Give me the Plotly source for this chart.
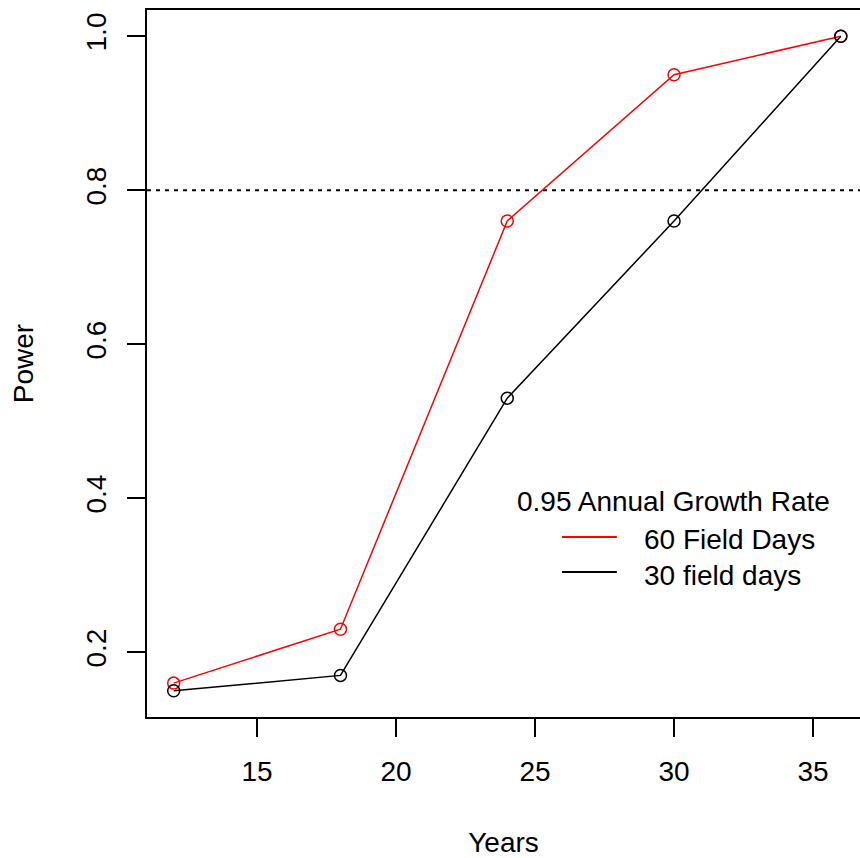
import plotly.graph_objects as go

# Study length (years) and statistical power for two survey efforts
years = [12, 18, 24, 30, 36]
power_60_days = [0.16, 0.23, 0.76, 0.95, 1.00]
power_30_days = [0.15, 0.17, 0.53, 0.76, 1.00]
target_power = 0.8

legend_title = "0.95 Annual Growth Rate"
series_names = ["60 Field Days", "30 field days"]
series_colors = ["#FF0000", "#000000"]

x_ticks = [15, 20, 25, 30, 35]
y_ticks = [0.2, 0.4, 0.6, 0.8, 1.0]

FONT = "Liberation Sans, Arial, sans-serif"

fig = go.Figure()
for name, vals, col in zip(series_names, [power_60_days, power_30_days], series_colors):
    fig.add_trace(go.Scatter(
        x=years, y=vals, name=name, mode="lines+markers",
        line=dict(color=col, width=1.5),
        marker=dict(symbol="circle-open", size=12, color=col, line=dict(width=1.5, color=col)),
        showlegend=False,
    ))

# Dotted reference line at the target power
fig.add_shape(type="line", xref="paper", x0=0, x1=1, yref="y", y0=target_power, y1=target_power,
              line=dict(color="black", width=2, dash="4px,5px"), layer="below")

# Legend block drawn manually (title centred over the keys)
fig.add_annotation(text=legend_title, xref="paper", yref="paper", x=0.739, y=0.3047,
                   xanchor="center", yanchor="middle", showarrow=False,
                   font=dict(family=FONT, size=28, color="black"))
key_rows = [0.2546, 0.2051]
text_rows = [0.2504, 0.2008]
for name, col, ky, ty in zip(series_names, series_colors, key_rows, text_rows):
    fig.add_shape(type="line", xref="paper", yref="paper", x0=0.582, x1=0.659, y0=ky, y1=ky,
                  line=dict(color=col, width=2))
    fig.add_annotation(text=name, xref="paper", yref="paper", x=0.694, y=ty,
                       xanchor="left", yanchor="middle", showarrow=False,
                       font=dict(family=FONT, size=28, color="black"))

fig.update_layout(
    width=860, height=858,
    margin=dict(l=147, r=0, t=10, b=141),
    paper_bgcolor="white", plot_bgcolor="white",
    font=dict(family=FONT, size=28, color="black"),
    xaxis=dict(
        range=[11.04, 36.69], tickvals=x_ticks, ticks="outside", ticklen=18, tickwidth=2,
        tickcolor="black", showline=True, linecolor="black", linewidth=2, mirror=True,
        showgrid=False, zeroline=False, ticklabelstandoff=10,
        title=dict(text="Years", standoff=48, font=dict(size=28)),
    ),
    yaxis=dict(
        range=[0.116, 1.034], tickvals=y_ticks, tickformat=".1f", ticks="outside", ticklen=18,
        tickwidth=2, tickcolor="black", showline=True, linecolor="black", linewidth=2,
        mirror=False, showgrid=False, zeroline=False, tickangle=-90, ticklabelstandoff=10,
        title=dict(text="Power", standoff=39, font=dict(size=28)),
    ),
)

fig.write_html("out.html")
